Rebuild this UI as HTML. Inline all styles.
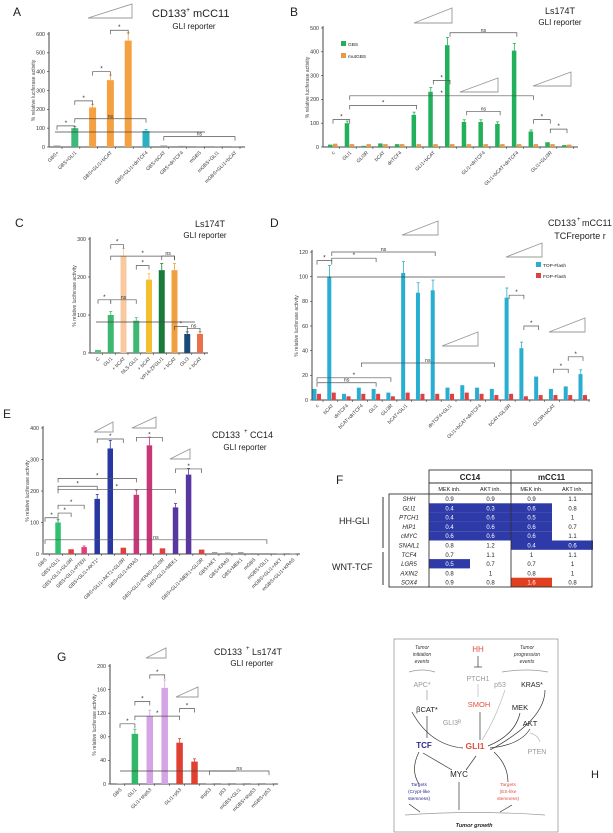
<!DOCTYPE html>
<html><head><meta charset="utf-8">
<style>
html,body{margin:0;padding:0;background:#fff;}
svg{display:block;font-family:"Liberation Sans",sans-serif;}
</style></head>
<body>
<svg id="fig" width="613" height="833" viewBox="0 0 613 833">
</svg>
<script>
// ---------- data ----------
const aCats=["GBS+","GBS+GLI1","","GBS+GLI1+bCAT","","GBS+GLI1+dnTCF4","GBS+bCAT","GBS+dnTCF4","mGBS","mGBS+GLI1","mGBS+GLI1+bCAT"];
const aVals=[8,100,210,355,565,85,8,6,4,4,4];
const aTicks=[0,100,200,300,400,500,600];

const bCats=["c","GLI1","GLI3R","bCAT","dnTCF4","","GLI1+bCAT","","","GLI1+dnTCF4","","GLI1+bCAT+dnTCF4","","GLI1+GLI3R",""];
const bGbs=[10,100,5,15,12,135,232,428,105,105,97,405,65,20,8];
const bMut=[14,12,12,12,12,12,12,12,12,12,12,12,12,12,10];
const bTicks=[0,100,200,300,400,500];

const cCats=["C","GLI1","+ bCAT","NLS-GLI1","+ bCAT","VP16-ZFGLI1","+ bCAT","GLI3","+ bCAT"];
const cVals=[8,100,255,85,193,218,218,50,50];
const cTicks=[0,100,200,300];

const dCats=["c","bCAT","dnTCF4","bCAT+dnTCF4","GLI1","GLI3R","bCAT+GLI1","","","dnTCF4+GLI1","","GLI1+bCAT+dnTCF4","","bCAT+GLI3R","","","GLI3R+bCAT","",""];
const dTop=[9,100,5,10,9,6,103,87,89,10,12,10,9,83,42,19,9,11,21];
const dFop=[5,6,3,5,5,3,6,5,5,5,6,5,4,5,3,4,4,4,4];
const dTicks=[0,20,40,60,80,100,120];

const eCats=["GBS","GBS+GLI1","GBS+GLI1+GLI3R","GBS+GLI1+PTEN","GBS+GLI1+AKT1*","","GBS+GLI1+AKT1+GLI3R","GBS+GLI1+KRAS","","GBS+GLI1+KRAS+GLI3R","GBS+GLI1+MEK1","","GBS+GLI1+MEK1+GLI3R","GBS+AKT","GBS+KRAS","GBS+MEK1","mGBS","mGBS+GLI1","mGBS+GLI1+AKT","mGBS+GLI1+KRAS"];
const eVals=[3,100,15,22,175,335,20,188,345,18,148,252,14,6,5,6,3,3,2,1];
const eTicks=[0,100,200,300,400];

const gCats=["GBS","GLI1","GLI1+shp53","","GLI1+p53","","shp53","p53","mGBS+GLI1","mGBS+shp53","mGBS+p53"];
const gVals=[1,85,115,163,70,38,1,1,1,1,1];
const gTicks=[0,40,80,120,160,200];

const fRows=["SHH","GLI1","PTCH1","HIP1","cMYC","SNAIL1","TCF4","LGR5","AXIN2","SOX4"];
const fCC14Mek=["0.9","0.4","0.4","0.4","0.6","0.8","0.7","0.5","0.8","0.9"];
const fCC14Akt=["0.9","0.3","0.6","0.6","0.6","1.2","1.1","0.7","1","0.8"];
const fMCCMek=["0.9","0.6","0.5","0.6","0.6","0.4","1","0.7","0.8","1.6"];
const fMCCAkt=["1.1","0.8","1","0.7","1.1","0.6","1.1","1","1","0.8"];

// ---------- helpers ----------
const NS="http://www.w3.org/2000/svg";
const svg=document.getElementById('fig');
function mk(tag,attrs,parent,txt){
  const e=document.createElementNS(NS,tag);
  for(const k in attrs)e.setAttribute(k,attrs[k]);
  if(txt!==undefined)e.textContent=txt;
  (parent||svg).appendChild(e);return e;
}
function txt(x,y,s,size,parent,extra){
  const t=mk('text',Object.assign({x:x,y:y,'font-size':size,fill:'#222'},extra||{}),parent,s);
  return t;
}
function wedge(x,y,w,h,parent){
  const p=mk('path',{d:`M${x} ${y+h} L${x+w} ${y} L${x+w} ${y+h} Z`,fill:'none',stroke:'#999','stroke-width':0.9},parent);
  
  
}
function chart(name,o){
  const g=mk('g',{},svg);
  
  
  const y=v=>o.y0-(v-o.ticks[0])/(o.ticks[o.ticks.length-1]-o.ticks[0])*(o.y0-o.yTop);
  const n=o.cats.length;
  const x=i=>o.xFirst+i*(o.xLast-o.xFirst)/(n-1);
  const ax=mk('line',{x1:o.ax,y1:o.y0,x2:o.ax,y2:y(o.ticks[o.ticks.length-1])-2,stroke:'#444','stroke-width':1},g);
  
  const bx=mk('line',{x1:o.ax,y1:o.y0,x2:o.axEnd,y2:o.y0,stroke:'#444','stroke-width':1},g);
  
  o.ticks.forEach(t=>{
    mk('line',{x1:o.ax-2,y1:y(t),x2:o.ax,y2:y(t),stroke:'#444','stroke-width':0.7},g);
    const tl=txt(o.ax-4,y(t)+1.8,String(t),5.3,g,{'text-anchor':'end',fill:'#333'});
    
  });
  for(let i=0;i<n;i++){
    mk('line',{x1:x(i)+o.bw*(o.series.length)/2+1.5,y1:o.y0,x2:x(i)+o.bw*(o.series.length)/2+1.5,y2:o.y0+2,stroke:'#444','stroke-width':0.6},g);
  }
  const yt=txt(0,0,'% relative luciferase activity',5,g,{'text-anchor':'middle',fill:'#444',transform:`translate(${o.ax-14},${(o.y0+o.yTop)/2}) rotate(-90)`});
  
  o.series.forEach((s,si)=>{
    s.vals.forEach((v,i)=>{
      const bxp=x(i)-o.bw*o.series.length/2+si*o.bw;
      const col=Array.isArray(s.color)?s.color[i]:s.color;
      const r=mk('rect',{x:bxp,y:y(v),width:o.bw-(o.series.length>1?0.5:0),height:Math.max(0.5,o.y0-y(v)),fill:col},g);
      
      
      if(v>20&&si===0){
        const e=v*0.07+2;
        mk('line',{x1:bxp+o.bw/2,y1:y(v),x2:bxp+o.bw/2,y2:y(v+e),stroke:col,'stroke-width':0.8},g);
        mk('line',{x1:bxp+o.bw/2-1.5,y1:y(v+e),x2:bxp+o.bw/2+1.5,y2:y(v+e),stroke:col,'stroke-width':0.8},g);
      }
    });
  });
  o.cats.forEach((c,i)=>{
    if(!c)return;
    const t=txt(0,0,c,4.9,g,{'text-anchor':'end',fill:'#333',transform:`translate(${x(i)+2},${o.y0+6}) rotate(-45)`});
    
    
  });
  (o.brackets||[]).forEach(b=>{
    const [i,j,v,lab]=b;const yy=y(v);
    mk('path',{d:`M${x(i)} ${yy+4} V${yy} H${x(j)} V${yy+4}`,fill:'none',stroke:'#555','stroke-width':0.7},g);
    txt((x(i)+x(j))/2,yy-1,lab,lab==='*'?6.5:5.3,g,{'text-anchor':'middle',fill:'#333'});
  });
  return {x,y,g};
}

// ---------- A ----------
txt(13,16,'A',12,svg,{fill:'#222'});
txt(152,17,'CD133',11,svg);txt(186,12,'+',7,svg);txt(193,17,'mCC11',11,svg);
txt(194,29,'GLI reporter',8,svg,{'text-anchor':'middle'});
wedge(88,4,44,14);
chart('chart-a',{cats:aCats,ticks:aTicks,ax:49,axEnd:245,y0:147,yTop:34,xFirst:57,xLast:235,bw:7,
  series:[{vals:aVals,color:['#999','#3cb878','#f5a142','#f5a142','#f5a142','#2ab0c0','#999','#999','#999','#999','#999']}],
  brackets:[[0,1,112,'*'],[1,2,245,'*'],[2,3,400,'*'],[3,4,620,'*'],[1,5,150,'ns'],[6,10,55,'ns']]});
mk('line',{x1:55,y1:132,x2:205,y2:132,stroke:'#444','stroke-width':0.7});

// ---------- B ----------
txt(290,16,'B',12,svg);
txt(560,14,'Ls174T',9,svg,{'text-anchor':'middle'});
txt(560,25,'GLI reporter',8,svg,{'text-anchor':'middle'});
wedge(414,8,38,15);wedge(460,78,38,14);wedge(533,72,38,14);
chart('chart-b',{cats:bCats,ticks:bTicks,ax:323,axEnd:578,y0:147,yTop:28,xFirst:333,xLast:567,bw:5,
  series:[{vals:bGbs,color:'#22b05a'},{vals:bMut,color:'#e89a40'}],
  brackets:[[0,1,115,'*'],[6,7,280,'*'],[7,11,480,'ns'],[1,5,175,'*'],[8,10,150,'ns'],[12,13,115,'*'],[13,14,75,'*'],[1,12,215,'*']]});
mk('rect',{x:341,y:41,width:5,height:5,fill:'#22b05a'});txt(348,46,'GBS',4.8,svg);
mk('rect',{x:341,y:53,width:5,height:5,fill:'#e89a40'});txt(348,58,'mutGBS',4.8,svg);

// ---------- C ----------
txt(15,227,'C',12,svg);
txt(210,227,'Ls174T',9,svg,{'text-anchor':'middle'});
txt(205,238,'GLI reporter',8,svg,{'text-anchor':'middle'});
chart('chart-c',{cats:cCats,ticks:cTicks,ax:90,axEnd:208,y0:353,yTop:239,xFirst:98,xLast:200,bw:6,
  series:[{vals:cVals,color:['#5cc080','#3cb870','#f8c8a0','#3cb870','#f5c030','#1a7a3a','#f0a040','#1a4a7a','#e8704a']}],
  brackets:[[0,1,140,'*'],[1,2,285,'*'],[1,3,140,'ns'],[3,4,230,'*'],[1,6,255,'*'],[5,6,255,'ns'],[6,7,70,'*'],[7,8,65,'ns']]});
mk('line',{x1:96,y1:322,x2:195,y2:322,stroke:'#444','stroke-width':0.7});

// ---------- D ----------
txt(270,227,'D',12,svg);
txt(576,226,'CD133',9,svg,{'text-anchor':'end'});txt(577,221,'+',6,svg);txt(582,226,'mCC11',9,svg);
txt(580,239,'TCFreporte r',9,svg,{'text-anchor':'middle'});
wedge(402,221,36,14);wedge(506,243,36,14);wedge(442,332,36,14);wedge(549,318,36,14);
chart('chart-d',{cats:dCats,ticks:dTicks,ax:312,axEnd:590,y0:400,yTop:252,xFirst:317,xLast:583,bw:4.5,
  series:[{vals:dTop,color:'#28aed0'},{vals:dFop,color:'#e04040'}],
  brackets:[[0,1,113,'*'],[1,4,115,'*'],[1,8,120,'ns'],[13,14,85,'*'],[14,15,60,'*'],[16,17,25,'*'],[17,18,35,'*'],[3,12,30,'ns'],[0,5,18,'*'],[0,4,14,'ns']]});
mk('line',{x1:317,y1:277,x2:505,y2:277,stroke:'#444','stroke-width':0.7});
mk('rect',{x:536,y:262,width:5,height:5,fill:'#28aed0'});txt(543,267,'TOP-Flash',4.8,svg);
mk('rect',{x:536,y:273,width:5,height:5,fill:'#e04040'});txt(543,278,'FOP-Flash',4.8,svg);

// ---------- E ----------
txt(3,418,'E',12,svg);
txt(212,438,'CD133',9,svg);txt(244,433,'+',6,svg);txt(250,438,'CC14',9,svg);
txt(245,450,'GLI reporter',8,svg,{'text-anchor':'middle'});
wedge(94,422,19,10);wedge(132,417,24,11);wedge(170,449,20,10);
chart('chart-e',{cats:eCats,ticks:eTicks,ax:43,axEnd:300,y0:554,yTop:428,xFirst:45,xLast:293,bw:5.5,
  series:[{vals:eVals,color:['#999','#30c070','#e04040','#e0407a','#2838a0','#2838a0','#e04040','#c83878','#c83878','#e04040','#5838a0','#5838a0','#e04040','#999','#999','#999','#999','#999','#999','#999']}],
  brackets:[[0,1,115,'*'],[1,2,130,'*'],[1,3,155,'*'],[4,6,365,'*'],[7,9,370,'*'],[10,12,270,'*'],[1,4,215,'*'],[1,7,240,'*'],[1,10,205,'*'],[0,17,45,'ns']]});

// ---------- G ----------
txt(57,661,'G',12,svg);
txt(214,655,'CD133',9,svg);txt(246,650,'+',6,svg);txt(252,655,'Ls174T',9,svg);
txt(252,666,'GLI reporter',8,svg,{'text-anchor':'middle'});
wedge(146,648,20,10);wedge(176,687,22,10);
chart('chart-g',{cats:gCats,ticks:gTicks,ax:110,axEnd:278,y0:784,yTop:666,xFirst:120,xLast:269,bw:6.5,
  series:[{vals:gVals,color:['#999','#30b868','#d4a4e4','#d4a4e4','#e04030','#e04030','#999','#999','#999','#999','#999']}],
  brackets:[[0,1,102,'*'],[1,2,140,'*'],[2,3,185,'*'],[4,5,128,'*'],[1,4,115,'*'],[6,10,22,'ns']]});
mk('line',{x1:120,y1:771,x2:236,y2:771,stroke:'#444','stroke-width':0.7});

// ---------- F table ----------
(function(){
  const g=mk('g',{},svg);
  
  
  txt(336,484,'F',12,g);
  const x0=389,x1=429,x2=511,x3=592,rowTop=494,rh=9.3;
  const colX=[x1,x1+41,x2,x2+41];
  const cols=[fCC14Mek,fCC14Akt,fMCCMek,fMCCAkt];
  fRows.forEach((r,i)=>{
    cols.forEach((c,ci)=>{
      const v=parseFloat(c[i]);
      let fill=null;
      if(v<=0.6)fill='#2d3aa8';
      if(v>=1.5)fill='#e04020';
      if(fill){const rc=mk('rect',{x:colX[ci],y:rowTop+i*rh,width:41,height:rh,fill:fill},g);
        }
      txt(colX[ci]+20.5,rowTop+i*rh+7,c[i],6,g,{'text-anchor':'middle',fill:fill?'#fff':'#222'});
    });
    txt(x0+20,rowTop+i*rh+7,r,6,g,{'text-anchor':'middle','font-style':'italic'});
  });
  const st={stroke:'#333','stroke-width':0.9,fill:'none'};
  mk('rect',Object.assign({x:x1,y:470,width:x3-x1,height:rowTop-470},st),g);
  mk('rect',Object.assign({x:x0,y:rowTop,width:x3-x0,height:rh*10},st),g);
  mk('line',Object.assign({x1:x1,y1:rowTop,x2:x1,y2:rowTop+rh*10},st),g);
  mk('line',Object.assign({x1:x2,y1:470,x2:x2,y2:rowTop+rh*10},st),g);
  mk('line',Object.assign({x1:x1,y1:483,x2:x3,y2:483},st),g);
  txt((x1+x2)/2,480,'CC14',8,g,{'text-anchor':'middle','font-weight':'bold'});
  txt((x2+x3)/2,480,'mCC11',8,g,{'text-anchor':'middle','font-weight':'bold'});
  ['MEK inh.','AKT inh.','MEK inh.','AKT inh.'].forEach((s,i)=>txt(colX[i]+20.5,491,s,5.5,g,{'text-anchor':'middle'}));
  mk('line',{x1:383,y1:497,x2:383,y2:548,stroke:'#333','stroke-width':1},g);
  mk('line',{x1:383,y1:552,x2:383,y2:585,stroke:'#333','stroke-width':1},g);
  txt(339,524,'HH-GLI',9,g);
  txt(332,570,'WNT-TCF',9,g);
})();

// ---------- H diagram ----------
(function(){
  const g=mk('g',{},svg);
  
  
  mk('rect',{x:394,y:639,width:164,height:193,fill:'none',stroke:'#999','stroke-width':0.8},g);
  txt(591,778,'H',11,g);
  const T=(x,y,s,sz,col,ex)=>txt(x,y,s,sz,g,Object.assign({'text-anchor':'middle',fill:col},ex||{}));
  T(422,649,'Tumor',5,'#333',{'font-style':'italic'});T(422,656,'initiation',5,'#333',{'font-style':'italic'});T(422,663,'events',5,'#333',{'font-style':'italic'});
  T(478,652,'HH',8,'#e05040');
  T(527,649,'Tumor',5,'#333',{'font-style':'italic'});T(527,656,'progression',5,'#333',{'font-style':'italic'});T(527,663,'events',5,'#333',{'font-style':'italic'});
  T(478,681,'PTCH1',7,'#999');T(422,687,'APC*',7,'#999');T(500,687,'p53',7,'#999');T(532,687,'KRAS*',7,'#222');
  T(479,707,'SMOH',7.5,'#e05040');T(520,710,'MEK',7.5,'#222');T(427,712,'βCAT*',7.5,'#222');
  T(452,725,'GLI3ᴿ',7,'#999');T(530,726,'AKT',7.5,'#222');
  T(424,748,'TCF',8,'#2a2a8a',{'font-weight':'bold'});T(475,749,'GLI1',8.5,'#e05040',{'font-weight':'bold'});T(537,754,'PTEN',7,'#999');
  T(459,777,'MYC',8,'#222');
  T(419,786,'Targets',4.8,'#2a2a8a');T(419,793,'(Crypt-like',4.8,'#2a2a8a');T(419,800,'stemness)',4.8,'#2a2a8a');
  T(508,786,'Targets',4.8,'#e05040');T(508,793,'(ES-like',4.8,'#e05040');T(508,800,'stemness)',4.8,'#e05040');
  T(474,827,'Tumor growth',5.5,'#222',{'font-style':'italic','font-weight':'bold'});
  const L=(d,c)=>mk('path',{d:d,fill:'none',stroke:c||'#333','stroke-width':0.7},g);
  L('M409 672 Q422 668 435 672','#999');L('M502 672 Q527 668 548 672','#999');
  L('M478 656 V667');L('M474 667 H482');L('M478 684 V697','#bbb');
  L('M427 690 V700','#999');L('M427 716 V738');L('M480 712 V740');L('M520 713 Q515 735 488 746');
  L('M545 690 Q545 720 490 750');L('M530 729 Q520 745 490 748');L('M505 690 Q495 720 482 740','#bbb');
  L('M423 753 L452 770');L('M466 770 L476 756');L('M459 782 V810');L('M412 712 Q430 745 463 748');
  L('M419 752 Q410 770 419 784');L('M494 752 Q508 765 508 782');L('M409 804 L420 812');L('M512 805 L500 812');
  L('M405 815 Q474 810 545 815','#999');L('M540 742 Q538 735 530 733','#bbb');
})();
</script>
</body></html>
